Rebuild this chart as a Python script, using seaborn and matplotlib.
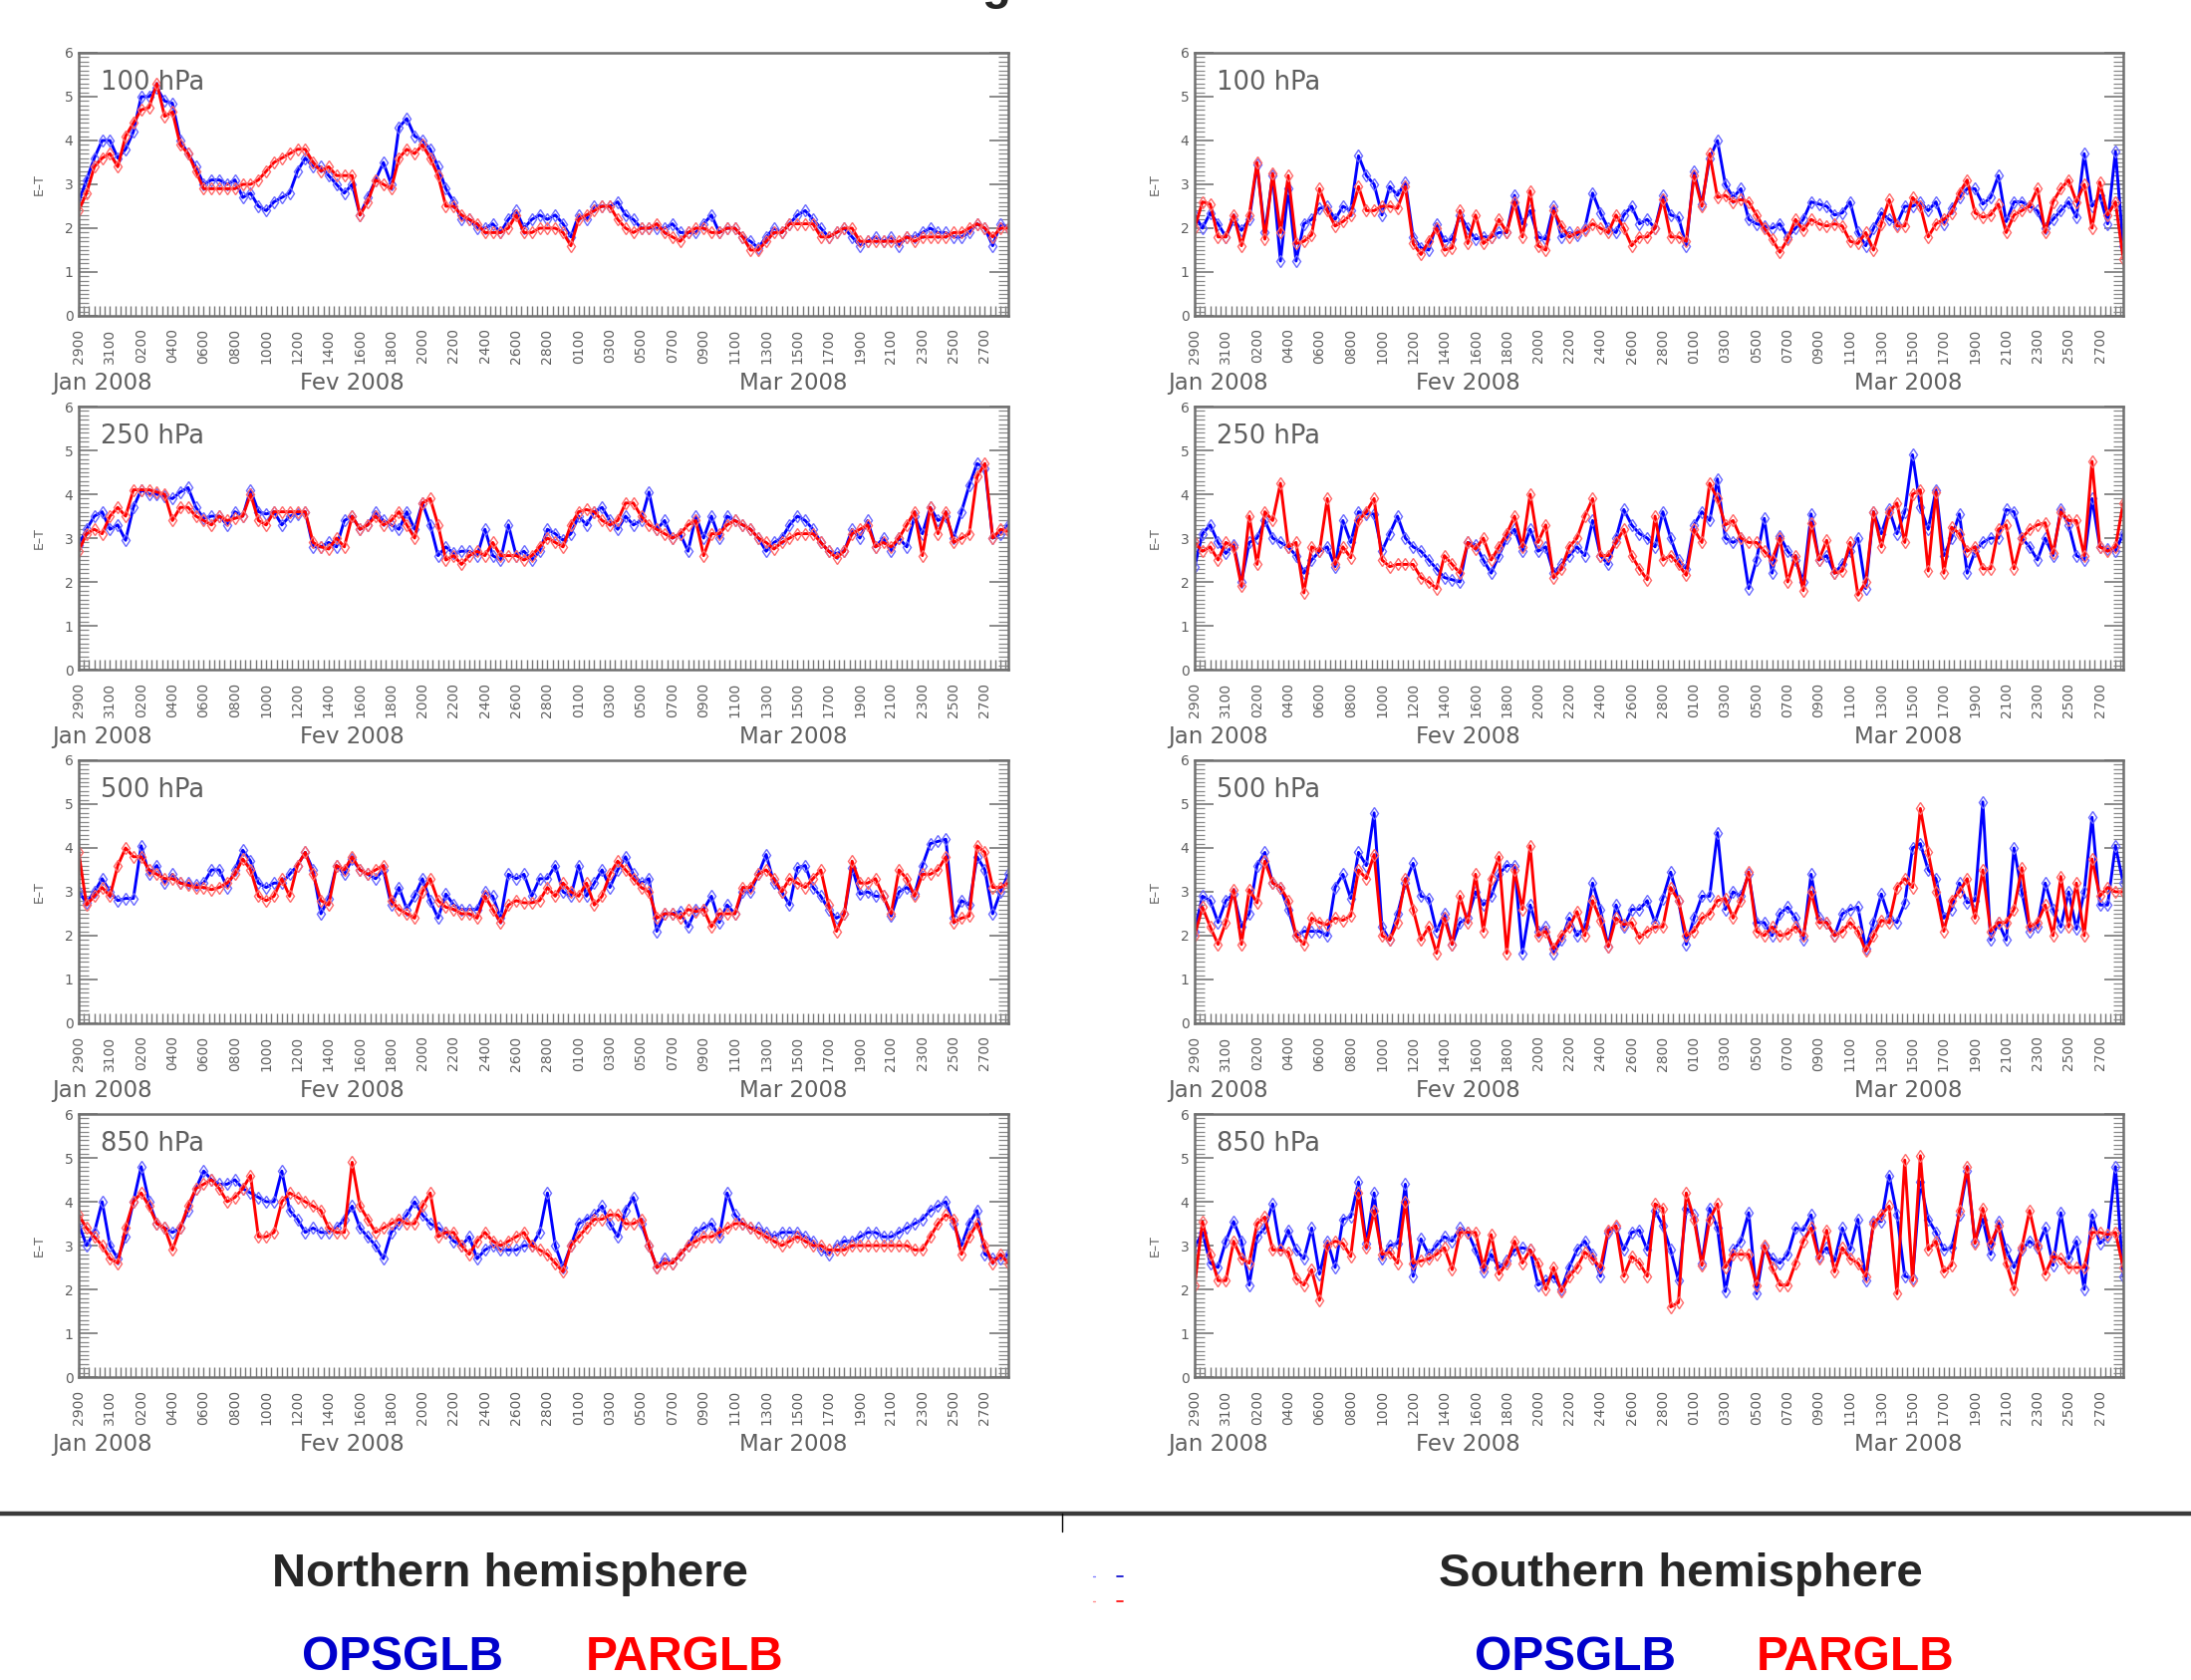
import numpy as np
import pandas as pd
import matplotlib
matplotlib.use('Agg')
import matplotlib.pyplot as plt
import matplotlib.dates as mdates
from matplotlib.lines import Line2D
from matplotlib.ticker import MultipleLocator, FixedLocator
import seaborn as sns

# 12-hourly analysis times, 29 Jan 2008 00Z -> 28 Mar 2008 12Z
times = pd.date_range('2008-01-29 00:00', periods=120, freq='12h')

levels = ['100 hPa', '250 hPa', '500 hPa', '850 hPa']

# ---- Northern hemisphere ----
nh100_ops = [2.6, 3.1, 3.6, 4.0, 4.0, 3.6, 3.8, 4.2, 5.0, 5.0,
             5.2, 4.9, 4.85, 4.0, 3.7, 3.4, 3.0, 3.1, 3.1, 3.0,
             3.1, 2.7, 2.8, 2.5, 2.4, 2.6, 2.7, 2.8, 3.3, 3.6,
             3.4, 3.4, 3.2, 3.0, 2.8, 3.0, 2.3, 2.7, 3.1, 3.5,
             3.0, 4.3, 4.5, 4.1, 4.0, 3.8, 3.4, 2.9, 2.6, 2.2,
             2.2, 2.0, 2.0, 2.1, 1.9, 2.2, 2.4, 2.0, 2.2, 2.3,
             2.2, 2.3, 2.1, 1.8, 2.3, 2.2, 2.5, 2.5, 2.5, 2.6,
             2.3, 2.2, 2.0, 2.0, 2.0, 2.0, 2.1, 1.9, 1.9, 1.9,
             2.1, 2.3, 1.9, 2.0, 2.0, 1.8, 1.7, 1.55, 1.8, 2.0,
             1.9, 2.1, 2.3, 2.4, 2.2, 2.0, 1.8, 1.9, 2.0, 1.8,
             1.6, 1.7, 1.8, 1.7, 1.8, 1.6, 1.8, 1.8, 1.9, 2.0,
             1.9, 1.9, 1.8, 1.8, 1.9, 2.1, 2.0, 1.6, 2.1, 2.0]
nh100_par = [2.4, 2.8, 3.4, 3.6, 3.7, 3.4, 4.1, 4.4, 4.7, 4.75,
             5.3, 4.55, 4.65, 3.9, 3.7, 3.3, 2.9, 2.9, 2.9, 2.9,
             2.9, 3.0, 3.0, 3.1, 3.3, 3.5, 3.6, 3.7, 3.8, 3.8,
             3.5, 3.3, 3.4, 3.2, 3.2, 3.2, 2.3, 2.6, 3.1, 3.0,
             2.9, 3.6, 3.8, 3.7, 3.9, 3.6, 3.2, 2.5, 2.5, 2.3,
             2.2, 2.1, 1.9, 1.9, 1.9, 2.0, 2.3, 1.9, 1.9, 2.0,
             2.0, 2.0, 1.9, 1.6, 2.2, 2.3, 2.4, 2.5, 2.5, 2.2,
             2.0, 1.9, 2.0, 2.0, 2.1, 1.9, 1.8, 1.7, 1.9, 2.0,
             2.0, 1.9, 1.9, 2.0, 2.0, 1.8, 1.5, 1.5, 1.7, 1.9,
             1.9, 2.1, 2.1, 2.1, 2.1, 1.8, 1.8, 1.9, 2.0, 2.0,
             1.7, 1.7, 1.7, 1.7, 1.7, 1.7, 1.8, 1.7, 1.8, 1.8,
             1.8, 1.8, 1.9, 1.9, 2.0, 2.1, 2.0, 1.8, 2.0, 2.0]

nh250_ops = [2.85, 3.2, 3.5, 3.6, 3.2, 3.3, 2.95, 3.7, 4.1, 4.0,
             4.0, 3.95, 3.9, 4.05, 4.15, 3.7, 3.45, 3.5, 3.5, 3.3,
             3.6, 3.5, 4.1, 3.6, 3.55, 3.6, 3.3, 3.5, 3.55, 3.6,
             2.8, 2.8, 2.9, 2.8, 3.4, 3.5, 3.2, 3.3, 3.6, 3.4,
             3.3, 3.2, 3.6, 3.2, 3.8, 3.3, 2.6, 2.8, 2.65, 2.7,
             2.7, 2.6, 3.2, 2.6, 2.5, 3.3, 2.6, 2.7, 2.5, 2.7,
             3.2, 3.1, 2.95, 3.1, 3.5, 3.3, 3.6, 3.7, 3.4, 3.2,
             3.5, 3.3, 3.4, 4.05, 3.2, 3.4, 3.0, 3.1, 2.7, 3.5,
             3.0, 3.5, 3.0, 3.5, 3.4, 3.3, 3.2, 3.0, 2.7, 2.9,
             3.0, 3.3, 3.5, 3.4, 3.2, 2.9, 2.7, 2.65, 2.7, 3.2,
             3.0, 3.4, 2.8, 3.0, 2.7, 3.0, 2.8, 3.5, 3.1, 3.7,
             3.4, 3.5, 3.0, 3.6, 4.2, 4.7, 4.6, 3.0, 3.1, 3.3]
nh250_par = [2.7, 3.1, 3.2, 3.1, 3.5, 3.7, 3.5, 4.1, 4.1, 4.1,
             4.05, 4.0, 3.4, 3.7, 3.7, 3.5, 3.4, 3.3, 3.5, 3.4,
             3.45, 3.5, 4.0, 3.4, 3.3, 3.6, 3.6, 3.6, 3.6, 3.6,
             2.9, 2.8, 2.75, 3.0, 2.8, 3.5, 3.2, 3.3, 3.5, 3.3,
             3.4, 3.6, 3.3, 3.0, 3.8, 3.9, 3.3, 2.5, 2.6, 2.4,
             2.6, 2.7, 2.6, 2.9, 2.6, 2.6, 2.6, 2.5, 2.6, 2.8,
             3.0, 2.9, 2.8, 3.3, 3.6, 3.65, 3.6, 3.4, 3.3, 3.4,
             3.8, 3.8, 3.5, 3.3, 3.2, 3.1, 3.0, 3.1, 3.3, 3.4,
             2.6, 3.1, 3.1, 3.3, 3.4, 3.3, 3.2, 3.0, 2.9, 2.75,
             2.9, 3.0, 3.1, 3.1, 3.1, 2.9, 2.7, 2.55, 2.7, 3.1,
             3.2, 3.3, 2.8, 2.9, 2.8, 3.0, 3.3, 3.6, 2.6, 3.7,
             3.1, 3.6, 2.9, 3.0, 3.1, 4.4, 4.7, 3.0, 3.2, 3.15]

nh500_ops = [3.0, 2.75, 3.0, 3.3, 3.0, 2.8, 2.85, 2.85, 4.05, 3.4,
             3.6, 3.2, 3.4, 3.2, 3.2, 3.15, 3.2, 3.5, 3.5, 3.1,
             3.5, 3.95, 3.7, 3.2, 3.1, 3.2, 3.2, 3.4, 3.6, 3.9,
             3.5, 2.5, 2.85, 3.6, 3.4, 3.75, 3.5, 3.4, 3.3, 3.5,
             2.7, 3.1, 2.6, 2.9, 3.3, 2.8, 2.4, 2.95, 2.7, 2.6,
             2.6, 2.6, 3.0, 2.9, 2.4, 3.4, 3.3, 3.4, 2.9, 3.3,
             3.3, 3.6, 3.0, 2.9, 3.6, 2.9, 3.2, 3.5, 3.1, 3.5,
             3.8, 3.4, 3.2, 3.3, 2.1, 2.5, 2.5, 2.55, 2.2, 2.6,
             2.6, 2.9, 2.3, 2.7, 2.5, 3.0, 3.0, 3.4, 3.85, 3.2,
             3.0, 2.7, 3.55, 3.6, 3.1, 2.9, 2.6, 2.4, 2.5, 3.55,
             2.95, 3.0, 2.9, 2.9, 2.45, 3.0, 3.1, 2.95, 3.6, 4.1,
             4.15, 4.2, 2.4, 2.8, 2.7, 3.8, 3.5, 2.5, 3.0, 3.4]
nh500_par = [3.9, 2.7, 2.9, 3.1, 2.9, 3.6, 4.0, 3.8, 3.8, 3.5,
             3.4, 3.3, 3.3, 3.2, 3.15, 3.1, 3.1, 3.05, 3.1, 3.2,
             3.4, 3.75, 3.5, 2.9, 2.8, 2.9, 3.3, 2.9, 3.6, 3.9,
             3.4, 2.8, 2.7, 3.6, 3.5, 3.8, 3.5, 3.4, 3.5, 3.6,
             2.8, 2.6, 2.5, 2.4, 3.0, 3.3, 2.8, 2.65, 2.6, 2.5,
             2.5, 2.4, 2.9, 2.6, 2.3, 2.7, 2.8, 2.75, 2.75, 2.8,
             3.1, 2.9, 3.2, 3.0, 2.9, 3.2, 2.7, 2.9, 3.4, 3.7,
             3.5, 3.3, 3.1, 3.0, 2.4, 2.5, 2.5, 2.4, 2.6, 2.55,
             2.6, 2.2, 2.5, 2.5, 2.5, 3.1, 3.1, 3.4, 3.5, 3.3,
             3.0, 3.3, 3.2, 3.1, 3.3, 3.5, 2.7, 2.1, 2.5, 3.7,
             3.2, 3.2, 3.3, 2.9, 2.5, 3.5, 3.3, 2.9, 3.4, 3.4,
             3.5, 3.8, 2.3, 2.4, 2.45, 4.05, 3.9, 3.1, 3.1, 3.2]

nh850_ops = [3.5, 3.0, 3.3, 4.0, 3.0, 2.7, 3.2, 4.0, 4.8, 4.0,
             3.5, 3.4, 3.3, 3.4, 3.8, 4.3, 4.7, 4.5, 4.4, 4.4,
             4.5, 4.3, 4.2, 4.1, 4.0, 4.0, 4.7, 3.8, 3.6, 3.3,
             3.4, 3.3, 3.3, 3.4, 3.6, 3.9, 3.4, 3.2, 3.0, 2.7,
             3.3, 3.5, 3.7, 4.0, 3.7, 3.5, 3.4, 3.3, 3.1, 3.0,
             3.2, 2.7, 2.9, 3.0, 2.9, 2.9, 2.9, 3.0, 3.0, 3.3,
             4.2, 3.0, 2.5, 3.0, 3.5, 3.6, 3.7, 3.9, 3.5, 3.2,
             3.8, 4.1, 3.5, 3.0, 2.5, 2.7, 2.6, 2.8, 3.0, 3.3,
             3.4, 3.5, 3.2, 4.2, 3.7, 3.5, 3.4, 3.4, 3.3, 3.2,
             3.3, 3.3, 3.3, 3.2, 3.1, 2.9, 2.8, 3.0, 3.1, 3.1,
             3.2, 3.3, 3.3, 3.2, 3.2, 3.3, 3.4, 3.5, 3.6, 3.8,
             3.9, 4.0, 3.5, 3.0, 3.5, 3.8, 2.8, 2.7, 2.7, 2.8]
nh850_par = [3.7, 3.4, 3.2, 3.0, 2.7, 2.6, 3.4, 4.0, 4.2, 3.9,
             3.5, 3.4, 2.9, 3.4, 3.9, 4.3, 4.4, 4.5, 4.3, 4.0,
             4.1, 4.3, 4.6, 3.2, 3.2, 3.3, 4.0, 4.2, 4.1, 4.0,
             3.9, 3.8, 3.4, 3.3, 3.3, 4.9, 3.9, 3.6, 3.3, 3.4,
             3.5, 3.6, 3.5, 3.5, 3.9, 4.2, 3.2, 3.3, 3.3, 3.0,
             2.8, 3.1, 3.3, 3.1, 3.0, 3.1, 3.2, 3.3, 3.0, 2.9,
             2.8, 2.6, 2.4, 3.0, 3.2, 3.4, 3.6, 3.6, 3.7, 3.7,
             3.5, 3.5, 3.6, 3.0, 2.5, 2.6, 2.6, 2.8, 3.0, 3.1,
             3.2, 3.2, 3.3, 3.4, 3.5, 3.5, 3.4, 3.3, 3.2, 3.1,
             3.0, 3.1, 3.2, 3.1, 3.0, 3.0, 2.9, 2.9, 2.9, 3.0,
             3.0, 3.0, 3.0, 3.0, 3.0, 3.0, 3.0, 2.9, 2.9, 3.2,
             3.5, 3.7, 3.6, 2.8, 3.2, 3.5, 3.0, 2.6, 2.8, 2.6]

# ---- Southern hemisphere ----
sh100_ops = [2.3, 2.0, 2.35, 2.1, 1.8, 2.2, 1.95, 2.2, 3.45, 1.9,
             3.2, 1.25, 2.9, 1.25, 2.1, 2.2, 2.45, 2.5, 2.2, 2.5,
             2.4, 3.65, 3.2, 3.0, 2.3, 2.95, 2.75, 3.05, 1.8, 1.55,
             1.5, 2.1, 1.7, 1.75, 2.3, 2.0, 1.75, 1.8, 1.8, 1.9,
             1.9, 2.75, 2.1, 2.4, 1.8, 1.75, 2.5, 1.8, 1.9, 1.85,
             2.0, 2.8, 2.35, 2.0, 1.9, 2.3, 2.5, 2.1, 2.2, 2.0,
             2.75, 2.3, 2.25, 1.6, 3.3, 2.55, 3.6, 4.0, 3.0, 2.7,
             2.9, 2.2, 2.1, 2.05, 2.0, 2.1, 1.8, 2.0, 2.2, 2.6,
             2.55, 2.5, 2.3, 2.35, 2.6, 1.9, 1.6, 2.0, 2.35, 2.2,
             2.1, 2.5, 2.5, 2.6, 2.4, 2.6, 2.1, 2.45, 2.7, 2.9,
             2.9, 2.55, 2.7, 3.2, 2.15, 2.6, 2.6, 2.5, 2.4, 2.0,
             2.2, 2.4, 2.6, 2.25, 3.7, 2.5, 2.75, 2.1, 3.75, 1.6]
sh100_par = [2.0, 2.6, 2.55, 1.8, 1.8, 2.3, 1.6, 2.3, 3.5, 1.75,
             3.25, 1.9, 3.2, 1.65, 1.7, 1.85, 2.9, 2.4, 2.05, 2.15,
             2.3, 2.95, 2.4, 2.4, 2.5, 2.5, 2.45, 2.95, 1.65, 1.4,
             1.7, 2.0, 1.5, 1.55, 2.4, 1.65, 2.3, 1.65, 1.8, 2.2,
             1.9, 2.6, 1.8, 2.85, 1.6, 1.5, 2.4, 2.05, 1.8, 1.9,
             1.95, 2.1, 2.0, 1.9, 2.3, 2.0, 1.6, 1.8, 1.8, 2.0,
             2.65, 1.8, 1.8, 1.7, 3.2, 2.5, 3.7, 2.7, 2.75, 2.6,
             2.65, 2.6, 2.3, 2.0, 1.75, 1.45, 1.75, 2.2, 1.95, 2.2,
             2.1, 2.05, 2.1, 2.05, 1.7, 1.65, 1.9, 1.5, 2.1, 2.65,
             2.05, 2.05, 2.7, 2.5, 1.8, 2.1, 2.2, 2.35, 2.8, 3.1,
             2.35, 2.25, 2.3, 2.55, 1.9, 2.3, 2.4, 2.5, 2.9, 1.9,
             2.6, 2.9, 3.1, 2.6, 3.0, 2.0, 3.05, 2.3, 2.6, 1.3]

sh250_ops = [2.35, 3.1, 3.3, 2.9, 2.65, 2.85, 2.0, 2.9, 3.0, 3.4,
             3.0, 2.9, 2.8, 2.6, 2.2, 2.5, 2.7, 2.8, 2.35, 3.4,
             2.9, 3.6, 3.55, 3.55, 2.7, 3.1, 3.5, 3.0, 2.8, 2.7,
             2.5, 2.3, 2.1, 2.05, 2.0, 2.9, 2.85, 2.5, 2.2, 2.6,
             3.0, 3.2, 2.7, 3.2, 2.7, 2.8, 2.2, 2.4, 2.6, 2.8,
             2.6, 3.4, 2.6, 2.4, 3.0, 3.65, 3.3, 3.1, 3.0, 2.8,
             3.6, 3.0, 2.5, 2.3, 3.3, 3.6, 3.4, 4.35, 3.0, 2.9,
             3.0, 1.85, 2.5, 3.45, 2.2, 3.05, 2.7, 2.5, 2.0, 3.55,
             2.5, 2.6, 2.2, 2.4, 2.7, 3.0, 1.85, 3.6, 3.1, 3.65,
             3.1, 3.6, 4.9, 3.7, 3.2, 4.1, 2.6, 3.0, 3.55, 2.2,
             2.7, 2.9, 3.0, 3.0, 3.65, 3.6, 3.0, 2.8, 2.5, 3.0,
             2.6, 3.65, 3.3, 2.6, 2.5, 3.9, 2.8, 2.75, 2.7, 3.1]
sh250_par = [2.9, 2.7, 2.8, 2.5, 2.9, 2.8, 1.9, 3.5, 2.4, 3.6,
             3.4, 4.25, 2.8, 2.9, 1.75, 2.8, 2.7, 3.9, 2.4, 2.8,
             2.55, 3.4, 3.6, 3.9, 2.5, 2.35, 2.4, 2.4, 2.4, 2.1,
             2.0, 1.85, 2.6, 2.4, 2.2, 2.9, 2.75, 3.0, 2.5, 2.8,
             3.1, 3.5, 2.8, 4.0, 2.9, 3.3, 2.1, 2.3, 2.8, 3.0,
             3.5, 3.9, 2.6, 2.6, 2.9, 3.2, 2.6, 2.3, 2.05, 3.5,
             2.5, 2.6, 2.4, 2.15, 3.2, 2.9, 4.25, 3.9, 3.3, 3.4,
             3.0, 2.9, 2.9, 2.7, 2.5, 3.0, 2.0, 2.6, 1.8, 3.35,
             2.5, 2.95, 2.2, 2.25, 2.9, 1.7, 2.0, 3.6, 2.8, 3.6,
             3.8, 2.9, 4.0, 4.1, 2.25, 4.05, 2.2, 3.25, 3.1, 2.7,
             2.8, 2.3, 2.3, 3.2, 3.3, 2.3, 3.0, 3.2, 3.3, 3.35,
             2.65, 3.6, 3.4, 3.4, 2.6, 4.75, 2.8, 2.7, 2.8, 3.8]

sh500_ops = [2.1, 2.9, 2.8, 2.3, 2.8, 2.95, 2.2, 2.5, 3.6, 3.9,
             3.2, 3.1, 2.6, 2.0, 2.1, 2.1, 2.1, 2.0, 3.1, 3.4,
             2.85, 3.9, 3.6, 4.8, 2.2, 1.9, 2.5, 3.2, 3.65, 2.9,
             2.85, 2.1, 2.5, 1.8, 2.3, 2.4, 3.0, 2.7, 2.9, 3.4,
             3.6, 3.6, 1.6, 2.7, 2.1, 2.2, 1.6, 1.9, 2.4, 2.0,
             2.2, 3.2, 2.6, 1.75, 2.7, 2.2, 2.6, 2.6, 2.8, 2.3,
             2.85, 3.45, 2.8, 1.8, 2.4, 2.9, 2.9, 4.35, 2.6, 3.0,
             2.9, 3.4, 2.3, 2.3, 2.0, 2.5, 2.65, 2.4, 1.9, 3.4,
             2.4, 2.3, 2.0, 2.5, 2.6, 2.65, 1.7, 2.3, 2.95, 2.4,
             2.3, 2.75, 4.0, 4.1, 3.5, 3.3, 2.4, 2.6, 3.2, 2.75,
             2.8, 5.05, 1.9, 2.3, 1.9, 4.0, 3.0, 2.1, 2.2, 3.2,
             2.6, 2.2, 3.0, 2.15, 3.0, 4.7, 2.7, 2.7, 4.05, 3.2]
sh500_par = [2.0, 2.65, 2.2, 1.8, 2.3, 3.05, 1.8, 3.05, 2.75, 3.7,
             3.2, 3.1, 2.8, 2.0, 1.8, 2.4, 2.3, 2.25, 2.4, 2.35,
             2.45, 3.5, 3.3, 3.85, 2.0, 1.9, 2.3, 3.3, 2.6, 1.9,
             2.2, 1.6, 2.4, 1.8, 2.9, 2.3, 3.4, 2.1, 3.3, 3.8,
             1.6, 3.5, 2.6, 4.05, 2.0, 2.1, 1.7, 2.0, 2.2, 2.55,
             2.0, 2.8, 2.35, 1.75, 2.4, 2.25, 2.3, 1.95, 2.1, 2.2,
             2.2, 3.1, 2.8, 2.0, 2.1, 2.4, 2.5, 2.8, 2.85, 2.4,
             2.8, 3.45, 2.1, 2.0, 2.2, 2.0, 2.05, 2.2, 2.0, 3.0,
             2.3, 2.3, 2.0, 2.1, 2.3, 2.1, 1.65, 2.0, 2.35, 2.3,
             3.1, 3.3, 3.1, 4.9, 3.9, 3.0, 2.1, 2.8, 3.0, 3.3,
             2.4, 3.5, 2.1, 2.3, 2.3, 2.6, 3.55, 2.2, 2.3, 2.7,
             2.0, 3.35, 2.2, 3.2, 2.0, 3.75, 2.9, 3.1, 3.0, 3.0]

sh850_ops = [2.95, 3.3, 2.6, 2.5, 3.1, 3.55, 3.1, 2.1, 3.2, 3.4,
             3.95, 2.9, 3.35, 2.9, 2.7, 3.4, 2.35, 3.1, 2.5, 3.6,
             3.65, 4.45, 3.05, 4.2, 2.7, 3.0, 3.05, 4.4, 2.3, 3.15,
             2.8, 3.0, 3.2, 3.1, 3.4, 3.3, 2.9, 2.4, 2.8, 2.5,
             2.65, 2.9, 2.95, 2.9, 2.1, 2.2, 2.3, 2.0, 2.5, 2.9,
             3.1, 2.8, 2.3, 3.3, 3.4, 2.9, 3.3, 3.35, 2.9, 3.8,
             3.45, 2.9, 2.2, 3.85, 3.7, 2.6, 3.85, 3.4, 1.95, 2.9,
             3.1, 3.75, 1.9, 2.95, 2.7, 2.6, 2.8, 3.4, 3.35, 3.7,
             2.75, 2.95, 2.65, 3.4, 2.9, 3.6, 2.2, 3.55, 3.55, 4.6,
             3.7, 2.3, 2.25, 4.45, 3.6, 3.3, 2.9, 2.95, 3.7, 4.7,
             3.1, 3.6, 2.8, 3.55, 2.9, 2.5, 2.9, 3.1, 2.95, 3.4,
             2.55, 3.75, 2.7, 3.1, 2.0, 3.7, 3.05, 3.2, 4.8, 2.3]
sh850_par = [2.1, 3.55, 2.8, 2.2, 2.2, 3.1, 2.7, 2.6, 3.5, 3.65,
             2.9, 2.9, 2.85, 2.25, 2.1, 2.45, 1.75, 3.0, 3.1, 3.05,
             2.75, 4.2, 2.95, 3.8, 2.8, 2.85, 2.6, 4.0, 2.6, 2.65,
             2.7, 2.8, 2.95, 2.45, 3.3, 3.3, 3.3, 2.5, 3.25, 2.35,
             2.6, 3.1, 2.6, 2.9, 2.6, 2.0, 2.5, 1.95, 2.3, 2.5,
             2.85, 2.7, 2.5, 3.35, 3.45, 2.3, 2.75, 2.6, 2.3, 3.95,
             3.85, 1.6, 1.7, 4.2, 3.6, 2.55, 3.6, 3.95, 2.5, 2.8,
             2.8, 2.8, 2.1, 3.0, 2.5, 2.1, 2.1, 2.6, 3.1, 3.4,
             2.7, 3.35, 2.4, 2.95, 2.7, 2.6, 2.3, 3.5, 3.7, 3.9,
             1.9, 4.95, 2.2, 5.05, 2.9, 3.1, 2.4, 2.55, 3.8, 4.8,
             3.05, 3.85, 3.05, 3.45, 2.6, 2.0, 2.95, 3.8, 3.0, 2.35,
             2.75, 2.7, 2.5, 2.5, 2.5, 3.3, 3.3, 3.25, 3.3, 2.5]

north = [(nh100_ops, nh100_par), (nh250_ops, nh250_par),
         (nh500_ops, nh500_par), (nh850_ops, nh850_par)]
south = [(sh100_ops, sh100_par), (sh250_ops, sh250_par),
         (sh500_ops, sh500_par), (sh850_ops, sh850_par)]

tick_labels = ['2900', '3100', '0200', '0400', '0600', '0800', '1000', '1200',
               '1400', '1600', '1800', '2000', '2200', '2400', '2600', '2800',
               '0100', '0300', '0500', '0700', '0900', '1100', '1300', '1500',
               '1700', '1900', '2100', '2300', '2500', '2700']
tick_dates = pd.date_range('2008-01-29', periods=len(tick_labels), freq='2D')
minor_dates = pd.date_range('2008-01-29 00:00', '2008-03-28 12:00', freq='8h')

month_labels = ['Jan 2008', 'Fev 2008', 'Mar 2008']
month_centres = pd.to_datetime(['2008-01-30 12:00', '2008-02-15 12:00', '2008-03-14 18:00'])

series_names = ['OPSGLB', 'PARGLB']
series_colors = ['#0000ff', '#ff0000']
marker_colors = ['#6a6aff', '#ff6a6a']
legend_colors = ['#0000cc', '#ff0000']

for ops, par in north + south:
    assert len(ops) == len(times) and len(par) == len(times)

sns.set_style('white')
plt.rcParams['font.family'] = ['DejaVu Sans']

W, H = 2199, 1686
fig = plt.figure(figsize=(W / 100, H / 100), dpi=100)
fig.patch.set_facecolor('white')

col_x = [(79, 1012), (1199, 2131)]
row_top = [53, 408, 763, 1118]
panel_h = 264
GRAY = '#5f5f5f'


def draw_panel(ax, ops, par, level):
    df = pd.DataFrame({'time': times, 'OPSGLB': ops, 'PARGLB': par})
    for name, c, mc in zip(series_names, series_colors, marker_colors):
        sns.lineplot(data=df, x='time', y=name, ax=ax, color=c, lw=2.1,
                     marker='d', ms=6.5, mfc='none', mec=mc, mew=1.0)
    ax.set_xlim(times[0], times[-1])
    ax.set_ylim(0, 6)
    ax.set_xlabel('')
    ax.set_ylabel('E\u2013T', fontsize=9, color=GRAY)
    ax.yaxis.set_label_coords(-0.036, 0.5)

    ax.set_xticks(mdates.date2num(tick_dates))
    ax.set_xticklabels(tick_labels, rotation=90, fontsize=10, color=GRAY)
    ax.xaxis.set_minor_locator(FixedLocator(mdates.date2num(minor_dates)))
    ax.yaxis.set_major_locator(MultipleLocator(1))
    ax.yaxis.set_minor_locator(MultipleLocator(0.1))
    ax.tick_params(axis='x', which='both', direction='in', length=7,
                   width=1.0, color='#777777', top=False, bottom=True, pad=9)
    ax.tick_params(axis='y', which='major', direction='in', length=14,
                   width=1.2, color='#777777', left=True, right=True,
                   labelsize=10, labelcolor=GRAY, pad=4)
    ax.tick_params(axis='y', which='minor', direction='in', length=7,
                   width=0.9, color='#888888', left=True, right=True)
    for s in ax.spines.values():
        s.set_color('#707070')
        s.set_linewidth(1.8)

    ax.text(0.024, 0.885, level, transform=ax.transAxes, fontsize=18.5,
            color=GRAY, ha='left', va='center')
    trans = matplotlib.transforms.blended_transform_factory(ax.transData, ax.transAxes)
    for lab, c in zip(month_labels, month_centres):
        ax.text(mdates.date2num(c), -0.255, lab, transform=trans, fontsize=16.5,
                color=GRAY, ha='center', va='center')


for col, panels in enumerate([north, south]):
    x0, x1 = col_x[col]
    for row, (ops, par) in enumerate(panels):
        top = row_top[row]
        ax = fig.add_axes([x0 / W, 1 - (top + panel_h) / H, (x1 - x0) / W, panel_h / H])
        draw_panel(ax, ops, par, levels[row])

# clipped title (only a descender shows at the top edge)
fig.text(1000 / W, 1 + 1 / H, 'g', fontsize=34, fontweight='bold',
         family='Liberation Sans', ha='center', va='baseline')

# separator rule and tick
fig.add_artist(Line2D([0, 1], [1 - 1519 / H] * 2, transform=fig.transFigure,
                      color='#3a3a3a', lw=3.2))
fig.add_artist(Line2D([1066 / W] * 2, [1 - 1519 / H, 1 - 1537 / H],
                      transform=fig.transFigure, color='black', lw=1.0))
# tiny marks in the middle
fig.add_artist(Line2D([1097 / W, 1099 / W], [1 - 1582 / H] * 2, transform=fig.transFigure,
                      color='#8080ff', lw=1.0))
fig.add_artist(Line2D([1121 / W, 1127 / W], [1 - 1582 / H] * 2, transform=fig.transFigure,
                      color='#0000cc', lw=1.2))
fig.add_artist(Line2D([1097 / W, 1099 / W], [1 - 1607 / H] * 2, transform=fig.transFigure,
                      color='#ff9090', lw=1.0))
fig.add_artist(Line2D([1121 / W, 1127 / W], [1 - 1607 / H] * 2, transform=fig.transFigure,
                      color='#ff0000', lw=1.2))

hemi_titles = ['Northern hemisphere', 'Southern hemisphere']
hemi_x = [512, 1687]
legend_x = [(404, 687), (1581, 1862)]
for title, hx, (lx_ops, lx_par) in zip(hemi_titles, hemi_x, legend_x):
    fig.text(hx / W, 1 - 1580 / H, title, fontsize=34, fontweight='bold',
             family='Liberation Sans', ha='center', va='center')
    for name, c, lx in zip(series_names, legend_colors, (lx_ops, lx_par)):
        fig.text(lx / W, 1 - 1664 / H, name, fontsize=34.5, fontweight='bold',
                 family='Liberation Sans', color=c, ha='center', va='center')

fig.savefig('out.png', dpi=100, facecolor='white')
